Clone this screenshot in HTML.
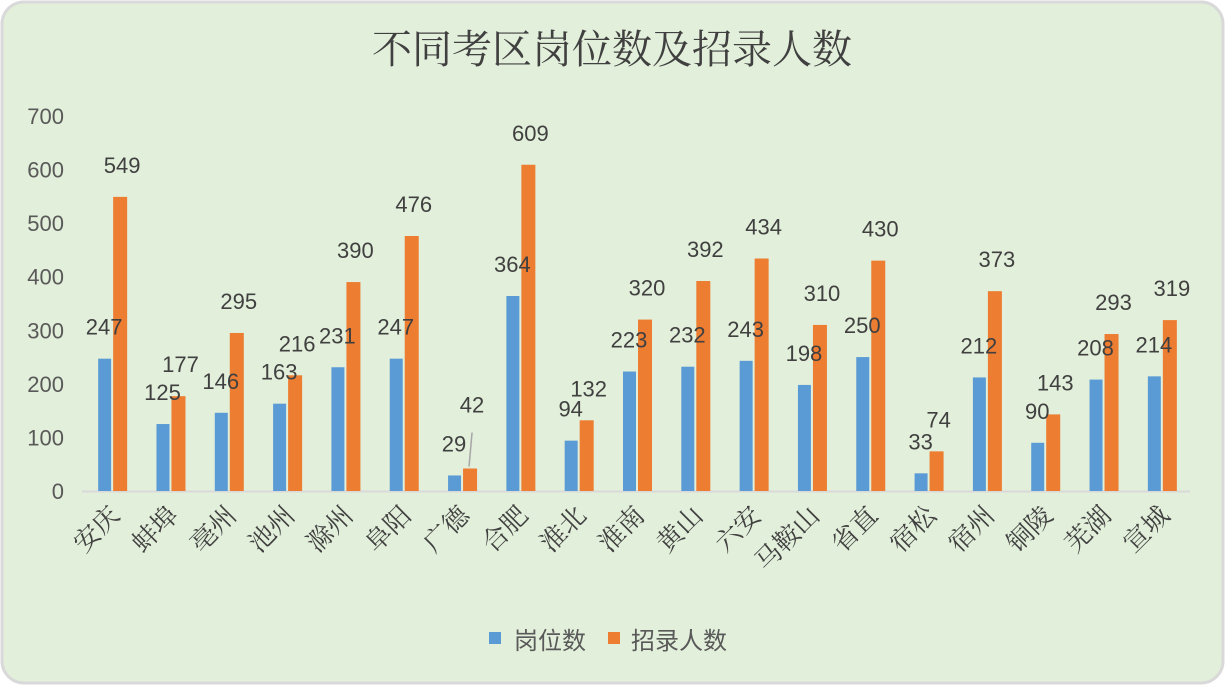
<!DOCTYPE html>
<html><head><meta charset="utf-8"><style>
body{margin:0;background:#fff}
svg{display:block}
</style></head><body>
<svg width="1225" height="685" xmlns="http://www.w3.org/2000/svg">
<rect x="2" y="2" width="1221" height="681" rx="22" fill="#e2efda" stroke="#d9d9d9" stroke-width="3"/>
<text x="612" y="63" text-anchor="middle" font-family="'Liberation Serif','Noto Serif CJK SC',serif" font-size="40" fill="#404040">不同考区岗位数及招录人数</text>
<g id="yaxis"></g>
<line x1="82" y1="491.5" x2="1190" y2="491.5" stroke="#d9d9d9" stroke-width="2"/>
<g id="bars"></g>
<g id="xlabels"></g>
<g>
<g><rect x="489" y="632" width="12" height="12" fill="#5b9bd5"/><text x="514" y="649" font-family="'Liberation Sans','Noto Sans CJK SC',sans-serif" font-size="24" fill="#595959">岗位数</text></g>
<g><rect x="608" y="632" width="12" height="12" fill="#ed7d31"/><text x="631" y="649" font-family="'Liberation Sans','Noto Sans CJK SC',sans-serif" font-size="24" fill="#595959">招录人数</text></g>
</g>
</svg>
<script>
const categories=["安庆","蚌埠","亳州","池州","滁州","阜阳","广德","合肥","淮北","淮南","黄山","六安","马鞍山","省直","宿松","宿州","铜陵","芜湖","宣城"];
const positions=[247,125,146,163,231,247,29,364,94,223,232,243,198,250,33,212,90,208,214];
const recruits=[549,177,295,216,390,476,42,609,132,320,392,434,310,430,74,373,143,293,319];
const yTicks=[0,100,200,300,400,500,600,700];
const NS="http://www.w3.org/2000/svg";
const x0=82,x1=1190,yb=491,yt=116,ymax=700;
const y=v=>yb-(yb-yt)*v/ymax;
const step=(x1-x0)/categories.length;
const cx=i=>x0+step*(i+0.5);
function mk(t,a,p){const e=document.createElementNS(NS,t);for(const k in a)e.setAttribute(k,a[k]);p.appendChild(e);return e;}
const ya=document.getElementById('yaxis');
yTicks.forEach(v=>{const t=mk('text',{x:64,y:y(v)+8,'text-anchor':'end','font-family':"'Liberation Sans',sans-serif",'font-size':22,fill:'#595959'},ya);


t.textContent=v;});
const bg=document.getElementById('bars');
const xl=document.getElementById('xlabels');
const F="'Liberation Sans','Noto Sans CJK SC',sans-serif";
categories.forEach((c,i)=>{
 const c0=cx(i);
 const b=mk('rect',{x:c0-13,y:y(positions[i]),width:13,height:yb-y(positions[i]),fill:'#5b9bd5'},bg);
 
 
 const o=mk('rect',{x:c0+2,y:y(recruits[i]),width:14,height:yb-y(recruits[i]),fill:'#ed7d31'},bg);
 
 
 const l1=mk('text',{x:c0-7,y:y(positions[i])-24,'text-anchor':'middle','font-family':F,'font-size':22,fill:'#404040'},bg);
 
 
 l1.textContent=positions[i];
 let off=24;
 if(c==="广德"){off=56;const ln=mk('line',{x1:c0+8,y1:y(recruits[i])-2,x2:c0+11,y2:y(recruits[i])-36,stroke:'#a6a6a6','stroke-width':1.5},bg);
  
  }
 const l2=mk('text',{x:c0+11,y:y(recruits[i])-off,'text-anchor':'middle','font-family':F,'font-size':22,fill:'#404040'},bg);
 
 
 l2.textContent=recruits[i];
 const t=mk('text',{x:0,y:0,'text-anchor':'end','font-family':"'Liberation Serif','Noto Serif CJK SC',serif",'font-size':26,fill:'#404040',transform:`translate(${c0+10},${517}) rotate(-45)`},xl);
 
 
 t.textContent=c;
});
</script>
</body></html>
